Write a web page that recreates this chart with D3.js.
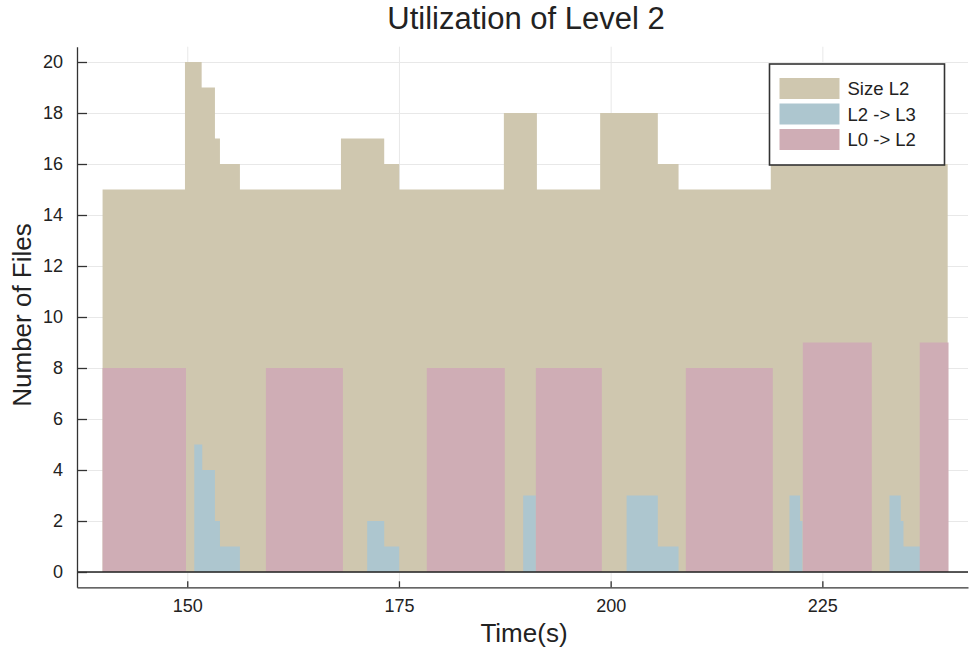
<!DOCTYPE html>
<html>
<head>
<meta charset="utf-8">
<script src="https://cdn.jsdelivr.net/npm/d3@7"></script>
<style>
    body { margin: 0; background: #ffffff; }
    text { font-family: "Liberation Sans", Arial, sans-serif; fill: #222; }
    .grid line { stroke: #e8e8e8; stroke-width: 1; }
    .grid path { display: none; }
    .axis path, .axis line { stroke: #333; stroke-width: 1.3; }
</style>
</head>
<body>
<svg id="drawing_region"></svg>
<script>
// step series: value[i] holds from time[i] to time[i+1]
const size_times  = [140, 149.73, 151.70, 153.27, 153.86, 156.22, 168.15, 173.26, 175.03, 187.39, 191.29, 198.76, 205.57, 208.02, 218.91, 239.8];
const size_values = [15, 20, 19, 17, 16, 15, 17, 16, 15, 18, 15, 18, 16, 15, 16, 16];

const l2l3_times  = [140, 150.83, 151.77, 153.27, 153.86, 156.22, 171.25, 173.26, 175.03, 189.67, 191.17, 201.88, 205.57, 208.02, 221.12, 222.37, 222.66, 232.93, 234.26, 234.58, 236.54, 239.8];
const l2l3_values = [0, 5, 4, 2, 1, 0, 2, 1, 0, 3, 0, 3, 1, 0, 3, 2, 0, 3, 2, 1, 0, 0];

const l0l2_times  = [140, 149.85, 159.29, 168.38, 178.29, 187.5, 191.17, 198.96, 208.88, 219.15, 222.69, 230.84, 236.5, 239.9];
const l0l2_values = [8, 0, 8, 0, 8, 0, 8, 0, 8, 0, 9, 0, 9, 9];

const series_names  = ['Size L2', 'L2 -> L3', 'L0 -> L2'];
const series_colors = ['#cfc7af', '#adc6cf', '#cfadb5'];

const x_ticks = [150, 175, 200, 225];
const y_ticks = [0, 2, 4, 6, 8, 10, 12, 14, 16, 18, 20];

var config = {
    parent: '#drawing_region',
    width: 969,
    height: 653,
    margin: {top:46.7, right:1, bottom:65.7, left:77},
    xdomain: [136.98, 242.2],
    ydomain: [-0.6, 20.6]
};

class StepAreaChart {

    constructor( config, series ) {
        this.config = config;
        this.series = series;
        this.init();
    }

    init() {
        let self = this;

        self.svg = d3.select( self.config.parent )
            .attr('width', self.config.width)
            .attr('height', self.config.height);

        self.chart = self.svg.append('g')
            .attr('transform', `translate(${self.config.margin.left}, ${self.config.margin.top})`);

        self.inner_width = self.config.width - self.config.margin.left - self.config.margin.right;
        self.inner_height = self.config.height - self.config.margin.top - self.config.margin.bottom;

        self.xscale = d3.scaleLinear()
            .domain( self.config.xdomain )
            .range( [0, self.inner_width] );

        self.yscale = d3.scaleLinear()
            .domain( self.config.ydomain )
            .range( [self.inner_height, 0] );

        self.xaxis = d3.axisBottom( self.xscale )
            .tickValues( x_ticks )
            .tickSizeInner( -6 )
            .tickSizeOuter( 0 )
            .tickPadding( 12 );

        self.yaxis = d3.axisLeft( self.yscale )
            .tickValues( y_ticks )
            .tickSizeInner( -10 )
            .tickSizeOuter( 0 )
            .tickPadding( 14 );

        self.xgrid = d3.axisBottom( self.xscale )
            .tickValues( x_ticks )
            .tickSize( -self.inner_height )
            .tickFormat( '' );

        self.ygrid = d3.axisLeft( self.yscale )
            .tickValues( y_ticks )
            .tickSize( -self.inner_width )
            .tickFormat( '' );
    }

    render() {
        let self = this;

        self.chart.append('g')
            .attr('class', 'grid')
            .attr('transform', `translate(0, ${self.inner_height})`)
            .call( self.xgrid );

        self.chart.append('g')
            .attr('class', 'grid')
            .call( self.ygrid );

        const area = d3.area()
            .curve( d3.curveStepAfter )
            .x( d => self.xscale( d.t ) )
            .y0( self.yscale(0) )
            .y1( d => self.yscale( d.v ) );

        self.chart.selectAll('path.area')
            .data( self.series )
            .enter()
            .append('path')
            .attr('class', 'area')
            .attr('d', d => area( d.times.map( (t, i) => ({t: t, v: d.values[i]}) ) ))
            .style('fill', d => d.color);

        // zero line
        self.chart.append('line')
            .attr('x1', 0)
            .attr('x2', self.inner_width)
            .attr('y1', self.yscale(0))
            .attr('y2', self.yscale(0))
            .attr('stroke', '#222')
            .attr('stroke-width', 1.3);

        self.chart.append('g')
            .attr('class', 'axis')
            .attr('transform', `translate(0, ${self.inner_height})`)
            .call( self.xaxis )
            .selectAll('text')
            .style('font-size', '18px');

        self.chart.append('g')
            .attr('class', 'axis')
            .call( self.yaxis )
            .selectAll('text')
            .style('font-size', '18px');

        self.svg.selectAll('.tick text').style('fill', '#222');

        // title and labels
        self.svg.append('text')
            .attr('x', 526)
            .attr('y', 29)
            .attr('text-anchor', 'middle')
            .style('font-size', '31px')
            .text('Utilization of Level 2');

        self.svg.append('text')
            .attr('x', 524)
            .attr('y', 642)
            .attr('text-anchor', 'middle')
            .style('font-size', '26px')
            .text('Time(s)');

        self.svg.append('text')
            .attr('transform', 'translate(31, 315) rotate(-90)')
            .attr('text-anchor', 'middle')
            .style('font-size', '26px')
            .text('Number of Files');

        // legend
        const legend = self.svg.append('g')
            .attr('transform', 'translate(769.5, 64)');

        legend.append('rect')
            .attr('width', 175)
            .attr('height', 101)
            .attr('fill', '#ffffff')
            .attr('stroke', '#333')
            .attr('stroke-width', 1.6);

        const items = legend.selectAll('g.item')
            .data( self.series )
            .enter()
            .append('g')
            .attr('class', 'item')
            .attr('transform', (d, i) => `translate(10, ${14 + i * 25.5})`);

        items.append('rect')
            .attr('width', 60)
            .attr('height', 21)
            .style('fill', d => d.color);

        items.append('text')
            .attr('x', 68)
            .attr('y', 17)
            .style('font-size', '18.5px')
            .text( d => d.name );
    }
}

const series = [
    {name: series_names[0], color: series_colors[0], times: size_times, values: size_values},
    {name: series_names[1], color: series_colors[1], times: l2l3_times, values: l2l3_values},
    {name: series_names[2], color: series_colors[2], times: l0l2_times, values: l0l2_values}
];

const chart = new StepAreaChart( config, series );
chart.render();
</script>
</body>
</html>
